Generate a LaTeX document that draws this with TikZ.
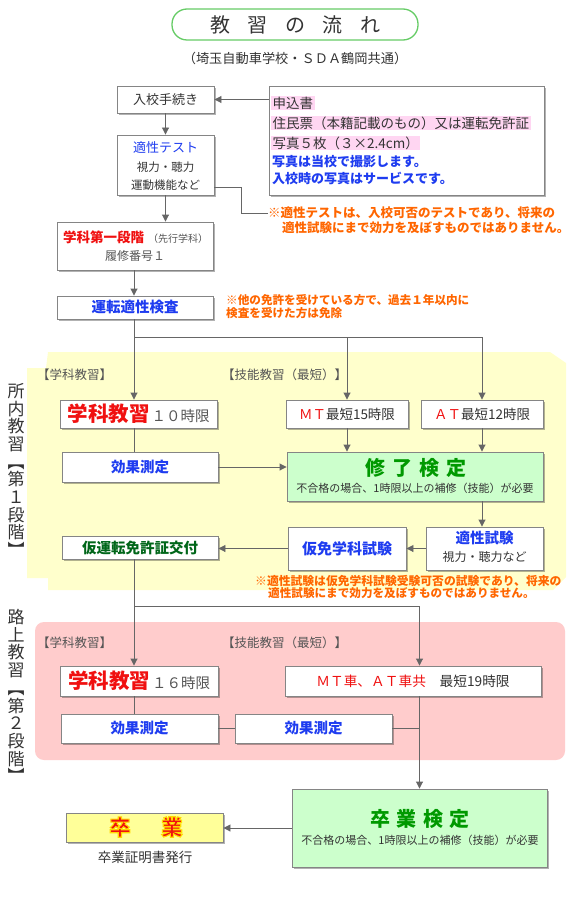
\documentclass[tikz,border=0pt]{standalone}
\usepackage{fontspec}
\setmainfont{Noto Sans CJK JP}
\usetikzlibrary{arrows.meta,shadows}
\definecolor{boxline}{HTML}{858585}
\definecolor{conn}{HTML}{666666}
\definecolor{tdark}{HTML}{333333}
\definecolor{tgray}{HTML}{555555}
\definecolor{tblue}{HTML}{1E3CF0}
\definecolor{tred}{HTML}{F01010}
\definecolor{torange}{HTML}{FF6600}
\definecolor{tgreen}{HTML}{009900}
\definecolor{tdgreen}{HTML}{006619}
\definecolor{bgyellow}{HTML}{FFFFCC}
\definecolor{bgpink}{HTML}{FFCCCC}
\definecolor{bglgreen}{HTML}{CCFFCC}
\definecolor{hlpink}{HTML}{FFD6F2}
\definecolor{bggrad}{HTML}{FFFF99}
\definecolor{titleline}{HTML}{66CC66}
\newcommand\fsz[1]{\fontsize{#1}{#1}\selectfont}
\newcommand\outlined[1]{\special{pdf:literal direct 1 0.85 0 RG 1.1 w 2 Tr}#1\special{pdf:literal direct 0 Tr}}
\tikzset{
  box/.style={draw=boxline, line width=0.9pt, fill=white, inner sep=0pt,
    drop shadow={shadow xshift=2.2pt, shadow yshift=-2.2pt, fill=black, opacity=0.3}},
  txt/.style={inner sep=0pt, text=tdark},
  note/.style={inner sep=0pt, anchor=west, text=torange},
  conline/.style={draw=conn, line width=0.9pt},
  arr/.style={conline, -{Triangle[width=7pt,length=7pt]}},
  lbl/.style={inner sep=0pt, anchor=west, text=tgray, font={\fsz{12.5}}},
  vtext/.style={inner sep=0pt, text=tdark, align=center, font={\fontsize{17}{17.7}\selectfont}},
  hl/.style={inner sep=0pt, anchor=west, fill=hlpink, inner xsep=1.5pt, inner ysep=1pt, text=tdark, font={\fsz{13.5}}},
}
\begin{document}
\begin{tikzpicture}[x=1pt,y=-1pt]
\useasboundingbox (0,0) rectangle (573,920);
\fill[white] (0,0) rectangle (573,920);
% background regions
\fill[bgyellow] (48,352) -- (550,352) -- (566,363) -- (566,577) -- (553,590) -- (48,590) -- (48,578) -- (27,578) -- (27,368) -- (46,368) -- cycle;
\fill[bgpink, rounded corners=9pt] (35,622) rectangle (565,760);

% title
\node[draw=titleline, line width=1.3pt, rounded corners=15pt, minimum width=246pt, minimum height=31pt, inner sep=0pt] (title) at (295,24.5) {};
\node[txt, font={\fsz{20}}] (titletxt) at (title.center) {教\hspace{17.5pt}習\hspace{17.5pt}の\hspace{17.5pt}流\hspace{17.5pt}れ};
\node[txt, font={\fsz{13.2}}, text=tdark] (sub) at (295,58) {（埼玉自動車学校・ＳＤＡ鶴岡共通）};

% top boxes
\node[box, minimum width=97pt, minimum height=27pt, font={\fsz{13}}, text=tdark] (nyuko) at (165.5,99.5) {入校手続き};
\node[box, minimum width=275pt, minimum height=109pt] (doc) at (406.5,140.5) {};
\node[hl] (d1) at (271,103) {申込書};
\node[hl] (d2) at (271,123) {住民票（本籍記載のもの）又は運転免許証};
\node[hl] (d3) at (271,143) {写真５枚（３×2.4cm）};
\node[txt, anchor=west, text=tblue, font={\bfseries\fsz{13}}] (d4) at (272,162) {写真は当校で撮影します。};
\node[txt, anchor=west, text=tblue, font={\bfseries\fsz{13}}] (d5) at (272,178) {入校時の写真はサービスです。};

\node[box, minimum width=97pt, minimum height=60pt] (tekisei) at (165.5,165) {};
\node[txt, text=tblue, font={\fsz{13}}] (t2a) at (165.5,148) {適性テスト};
\node[txt, font={\fsz{11.5}}] (t2b) at (165.5,167) {視力・聴力};
\node[txt, font={\fsz{11.5}}] (t2c) at (165.5,185) {運動機能など};

\node[note, font={\bfseries\fsz{12.5}}] (note1) at (268,213) {※適性テストは、入校可否のテストであり、将来の};
\node[note, font={\bfseries\fsz{12.5}}] (note1b) at (282,228) {適性試験にまで効力を及ぼすものではありません。};

\node[box, minimum width=156pt, minimum height=48pt] (gakka1) at (135,246) {};
\node[txt] (g1a) at (135.5,237) {{\color{tred}\bfseries\fsz{13.5}学科第一段階}\hspace{4pt}{\color{tgray}\fsz{10}（先行学科）}};
\node[txt, text=tgray, font={\fsz{12}}] (g1b) at (135,256) {履修番号１};

\node[box, minimum width=156pt, minimum height=23pt, text=tblue, font={\bfseries\fsz{14.5}}] (unten) at (135,307.5) {運転適性検査};
\node[note, font={\bfseries\fsz{11.6}}] (note2) at (226,300) {※他の免許を受けている方で、過去１年以内に};
\node[note, font={\bfseries\fsz{11.6}}] (note2b) at (226,313) {検査を受けた方は免除};

% first stage
\node[vtext] (v1) at (16,470) {所\\内\\教\\習\\︻\\第\\１\\段\\階\\︼};
\node[lbl] (l1) at (37,375) {【学科教習】};
\node[lbl] (l2) at (222,375) {【技能教習（最短）】};

\node[box, minimum width=157pt, minimum height=28pt] (gk1) at (138.5,414) {{\color{tred}\bfseries\fsz{20.5}学科教習}\hspace{2pt}{\color{tgray}\fsz{14.5}１０時限}};
\node[box, minimum width=122pt, minimum height=28pt, font={\fsz{13.5}}] (mt) at (347,414) {{\color{tred}ＭＴ}{\color{tdark}最短15時限}};
\node[box, minimum width=122pt, minimum height=28pt, font={\fsz{13.5}}] (at) at (482,414) {{\color{tred}ＡＴ}{\color{tdark}最短12時限}};

\node[box, minimum width=156pt, minimum height=30pt, text=tblue, font={\bfseries\fsz{14.5}}] (kouka1) at (140,467) {効果測定};

\node[box, fill=bglgreen, minimum width=256pt, minimum height=49pt] (shuryo) at (415,476.5) {};
\node[txt, text=tgreen, font={\bfseries\fsz{20}}] (sh1) at (415.5,468) {修\hspace{7pt}了\hspace{7pt}検\hspace{7pt}定};
\node[txt, font={\fsz{11}}] (sh2) at (415,488) {不合格の場合、1時限以上の補修（技能）が必要};

\node[box, minimum width=117pt, minimum height=43pt] (tekS) at (484.5,548.5) {};
\node[txt, text=tblue, font={\bfseries\fsz{14.5}}] (ts1) at (484.5,538) {適性試験};
\node[txt, font={\fsz{12}}] (ts2) at (484.5,557) {視力・聴力など};

\node[box, minimum width=118pt, minimum height=43pt, text=tblue, font={\bfseries\fsz{15}}] (karimen) at (347,548.5) {仮免学科試験};
\node[box, minimum width=156pt, minimum height=23pt, text=tdgreen, font={\bfseries\fsz{14.5}}] (karikofu) at (140,547.5) {仮運転免許証交付};

\node[note, font={\bfseries\fsz{11.8}}] (note3) at (255,581) {※適性試験は仮免学科試験受験可否の試験であり、将来の};
\node[note, font={\bfseries\fsz{11.6}}] (note3b) at (268,593) {適性試験にまで効力を及ぼすものではありません。};

% second stage
\node[vtext] (v2) at (16,696) {路\\上\\教\\習\\︻\\第\\２\\段\\階\\︼};
\node[lbl] (l3) at (37,643) {【学科教習】};
\node[lbl] (l4) at (222,643) {【技能教習（最短）】};

\node[box, minimum width=158pt, minimum height=30pt] (gk2) at (139,681) {{\color{tred}\bfseries\fsz{20.5}学科教習}\hspace{2pt}{\color{tgray}\fsz{14.5}１６時限}};
\node[box, minimum width=256pt, minimum height=30pt, font={\fsz{13.7}}] (mt2) at (413,681) {{\color{tred}ＭＴ車、ＡＴ車共}{\color{tdark}　最短19時限}};
\node[box, minimum width=157pt, minimum height=29pt, text=tblue, font={\bfseries\fsz{14.5}}] (koukaA) at (139.5,728.5) {効果測定};
\node[box, minimum width=157pt, minimum height=29pt, text=tblue, font={\bfseries\fsz{14.5}}] (koukaB) at (313.5,728.5) {効果測定};

\node[box, fill=bglgreen, minimum width=255pt, minimum height=78pt] (sotsuken) at (419.5,828) {};
\node[txt, text=tgreen, font={\bfseries\fsz{20}}] (sk1) at (420,819) {卒\hspace{6.3pt}業\hspace{6.3pt}検\hspace{6.3pt}定};
\node[txt, font={\fsz{11}}] (sk2) at (420,840) {不合格の場合、1時限以上の補修（技能）が必要};

\node[box, fill=bggrad, minimum width=157pt, minimum height=29pt] (sotsu) at (144.5,827.5) {};
\node[txt, text=tred, font={\bfseries\fsz{21.5}}] (sotsutxt) at (146,827) {\outlined{卒\hspace{30.5pt}業}};
\node[txt, font={\fsz{13.5}}] (shomei) at (145,857) {卒業証明書発行};

% connectors
\coordinate (lane) at (134,0);
\draw[arr] (nyuko.east -| doc.west) -- (nyuko.east);
\draw[arr] (nyuko.south) -- (tekisei.north);
\draw[arr] (tekisei.south) -- (tekisei.south |- gakka1.north);
\draw[conline] ([yshift=-22pt]tekisei.east) -- ++(27,0) |- (note1.west);
\draw[arr] (gakka1.south -| lane) -- (unten.north -| lane);
\draw[arr] (unten.south -| lane) -- (gk1.north -| lane);
\path (unten.south -| lane) ++(0,18) coordinate (br1);
\draw[arr] (br1) -| (at.north);
\draw[arr] (br1 -| mt.north) -- (mt.north);
\draw[conline] (gk1.south -| lane) -- (kouka1.north -| lane);
\draw[arr] (kouka1.east) -- (kouka1.east -| shuryo.west);
\draw[arr] (mt.south) -- (mt.south |- shuryo.north);
\draw[arr] (at.south) -- (at.south |- shuryo.north);
\draw[arr] (at.south |- shuryo.south) -- (at.south |- tekS.north);
\draw[arr] (tekS.west) -- (karimen.east);
\draw[arr] (karimen.west) -- (karimen.west -| karikofu.east);
\draw[arr] (karikofu.south -| lane) -- (gk2.north -| lane);
\path (karikofu.south -| lane) ++(0,47) coordinate (br2);
\draw[arr] (br2) -| (mt2.north -| sotsuken.north);
\draw[conline] (gk2.south -| lane) -- (koukaA.north -| lane);
\draw[conline] (koukaA.east) -- (koukaB.west);
\draw[conline] (koukaB.east) -- (koukaB.east -| sotsuken.north);
\draw[arr] (mt2.south -| sotsuken.north) -- (sotsuken.north);
\draw[arr] (sotsuken.west) -- (sotsuken.west -| sotsu.east);
\end{tikzpicture}
\end{document}
